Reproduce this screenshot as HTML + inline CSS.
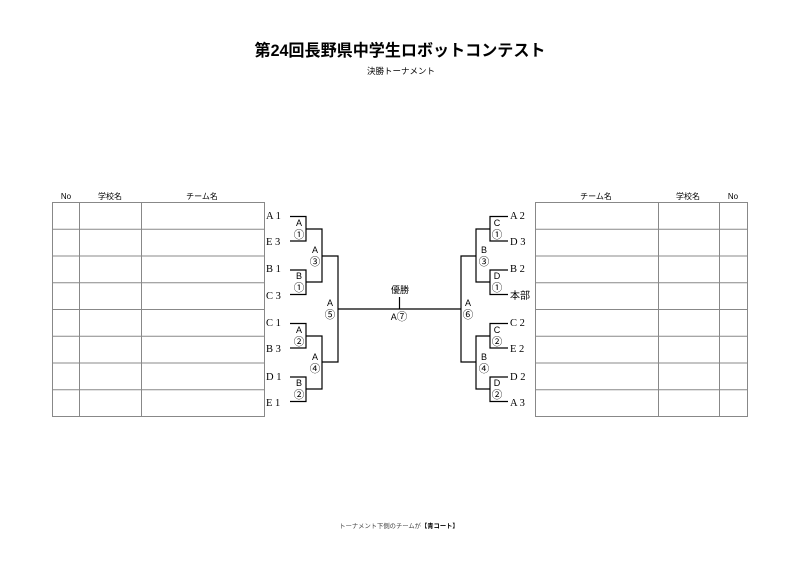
<!DOCTYPE html>
<html><head><meta charset="utf-8"><style>
html,body{margin:0;padding:0;background:#fff}
svg{display:block}
.t{font-family:"Liberation Serif","Noto Serif CJK SC",serif;font-size:10.5px;fill:#000}
.s{font-family:"Liberation Sans","Noto Sans CJK JP",sans-serif;fill:#000}
.c{font-family:"Noto Sans CJK JP",sans-serif;font-size:10.5px;fill:#000}
</style></head><body>
<svg width="800" height="566" viewBox="0 0 800 566" xmlns="http://www.w3.org/2000/svg">
<text x="400" y="56" text-anchor="middle" class="s" style="font-size:16.3px;font-weight:bold" textLength="291" lengthAdjust="spacingAndGlyphs">第24回長野県中学生ロボットコンテスト</text>
<text x="401" y="74" text-anchor="middle" class="s" style="font-size:8.5px">決勝トーナメント</text>
<text x="399" y="528" text-anchor="middle" class="s" style="font-size:6.3px;fill:#444">トーナメント下側のチームが<tspan style="font-weight:bold;fill:#000">【青コート】</tspan></text>

<g class="s" style="font-size:8px" text-anchor="middle">
<text x="66" y="199">No</text><text x="110" y="199">学校名</text><text x="202" y="199">チーム名</text>
<text x="596" y="199">チーム名</text><text x="688" y="199">学校名</text><text x="733" y="199">No</text>
</g>
<g stroke="#888" stroke-width="1" fill="none">
<rect x="52.5" y="202.5" width="212" height="214"/>
<line x1="79.5" y1="202" x2="79.5" y2="417"/><line x1="141.5" y1="202" x2="141.5" y2="417"/>
<rect x="535.5" y="202.5" width="212" height="214"/>
<line x1="658.5" y1="202" x2="658.5" y2="417"/><line x1="719.5" y1="202" x2="719.5" y2="417"/>
<line x1="52" y1="229.25" x2="265" y2="229.25"/><line x1="52" y1="256" x2="265" y2="256"/><line x1="52" y1="282.75" x2="265" y2="282.75"/><line x1="52" y1="309.5" x2="265" y2="309.5"/><line x1="52" y1="336.25" x2="265" y2="336.25"/><line x1="52" y1="363" x2="265" y2="363"/><line x1="52" y1="389.75" x2="265" y2="389.75"/>
<line x1="535" y1="229.25" x2="748" y2="229.25"/><line x1="535" y1="256" x2="748" y2="256"/><line x1="535" y1="282.75" x2="748" y2="282.75"/><line x1="535" y1="309.5" x2="748" y2="309.5"/><line x1="535" y1="336.25" x2="748" y2="336.25"/><line x1="535" y1="363" x2="748" y2="363"/><line x1="535" y1="389.75" x2="748" y2="389.75"/>
</g>

<g stroke="#000" stroke-width="1.2" fill="none">
<polyline points="290,216.5 306,216.5 306,241 290,241"/>
<polyline points="290,270 306,270 306,294.5 290,294.5"/>
<polyline points="290,323.5 306,323.5 306,348 290,348"/>
<polyline points="290,377 306,377 306,401.5 290,401.5"/>
<polyline points="306,229 322,229 322,282 306,282"/>
<polyline points="306,336 322,336 322,389 306,389"/>
<polyline points="322,256 338,256 338,362 322,362"/>
<line x1="338" y1="309" x2="461" y2="309"/>
<line x1="399.5" y1="297" x2="399.5" y2="309"/>
<polyline points="508,216.5 490,216.5 490,241 508,241"/>
<polyline points="508,270 490,270 490,294.5 508,294.5"/>
<polyline points="508,323.5 490,323.5 490,348 508,348"/>
<polyline points="508,377 490,377 490,401.5 508,401.5"/>
<polyline points="490,229 476,229 476,282 490,282"/>
<polyline points="490,336 476,336 476,389 490,389"/>
<polyline points="476,256 461,256 461,362 476,362"/>
</g>

<g class="t">
<text x="266" y="219">A 1</text><text x="266" y="245">E 3</text>
<text x="266" y="272">B 1</text><text x="266" y="299">C 3</text>
<text x="266" y="326">C 1</text><text x="266" y="352">B 3</text>
<text x="266" y="380">D 1</text><text x="266" y="406">E 1</text>
<text x="510" y="219">A 2</text><text x="510" y="245">D 3</text>
<text x="510" y="272">B 2</text><text x="510" y="299" class="s" style="font-size:10px">本部</text>
<text x="510" y="326">C 2</text><text x="510" y="352">E 2</text>
<text x="510" y="380">D 2</text><text x="510" y="406">A 3</text>
</g>

<g class="s" style="font-size:9px" text-anchor="middle">
<text x="299" y="226">A</text><text x="299" y="279">B</text><text x="299" y="333">A</text><text x="299" y="386">B</text>
<text x="315" y="253">A</text><text x="315" y="360">A</text><text x="330" y="306">A</text>
<text x="497" y="226">C</text><text x="497" y="279">D</text><text x="497" y="333">C</text><text x="497" y="386">D</text>
<text x="484" y="253">B</text><text x="484" y="360">B</text><text x="468" y="306">A</text>
<text x="400" y="293">優勝</text>
</g>
<g class="c" text-anchor="middle">
<text x="299" y="238">①</text><text x="299" y="291">①</text><text x="299" y="345">②</text><text x="299" y="398">②</text>
<text x="315" y="265">③</text><text x="315" y="372">④</text><text x="330" y="318">⑤</text>
<text x="497" y="238">①</text><text x="497" y="291">①</text><text x="497" y="345">②</text><text x="497" y="398">②</text>
<text x="484" y="265">③</text><text x="484" y="372">④</text><text x="468" y="318">⑥</text>
<text x="399" y="320"><tspan class="s" style="font-size:9px">A</tspan>⑦</text>
</g>
</svg>
</body></html>
